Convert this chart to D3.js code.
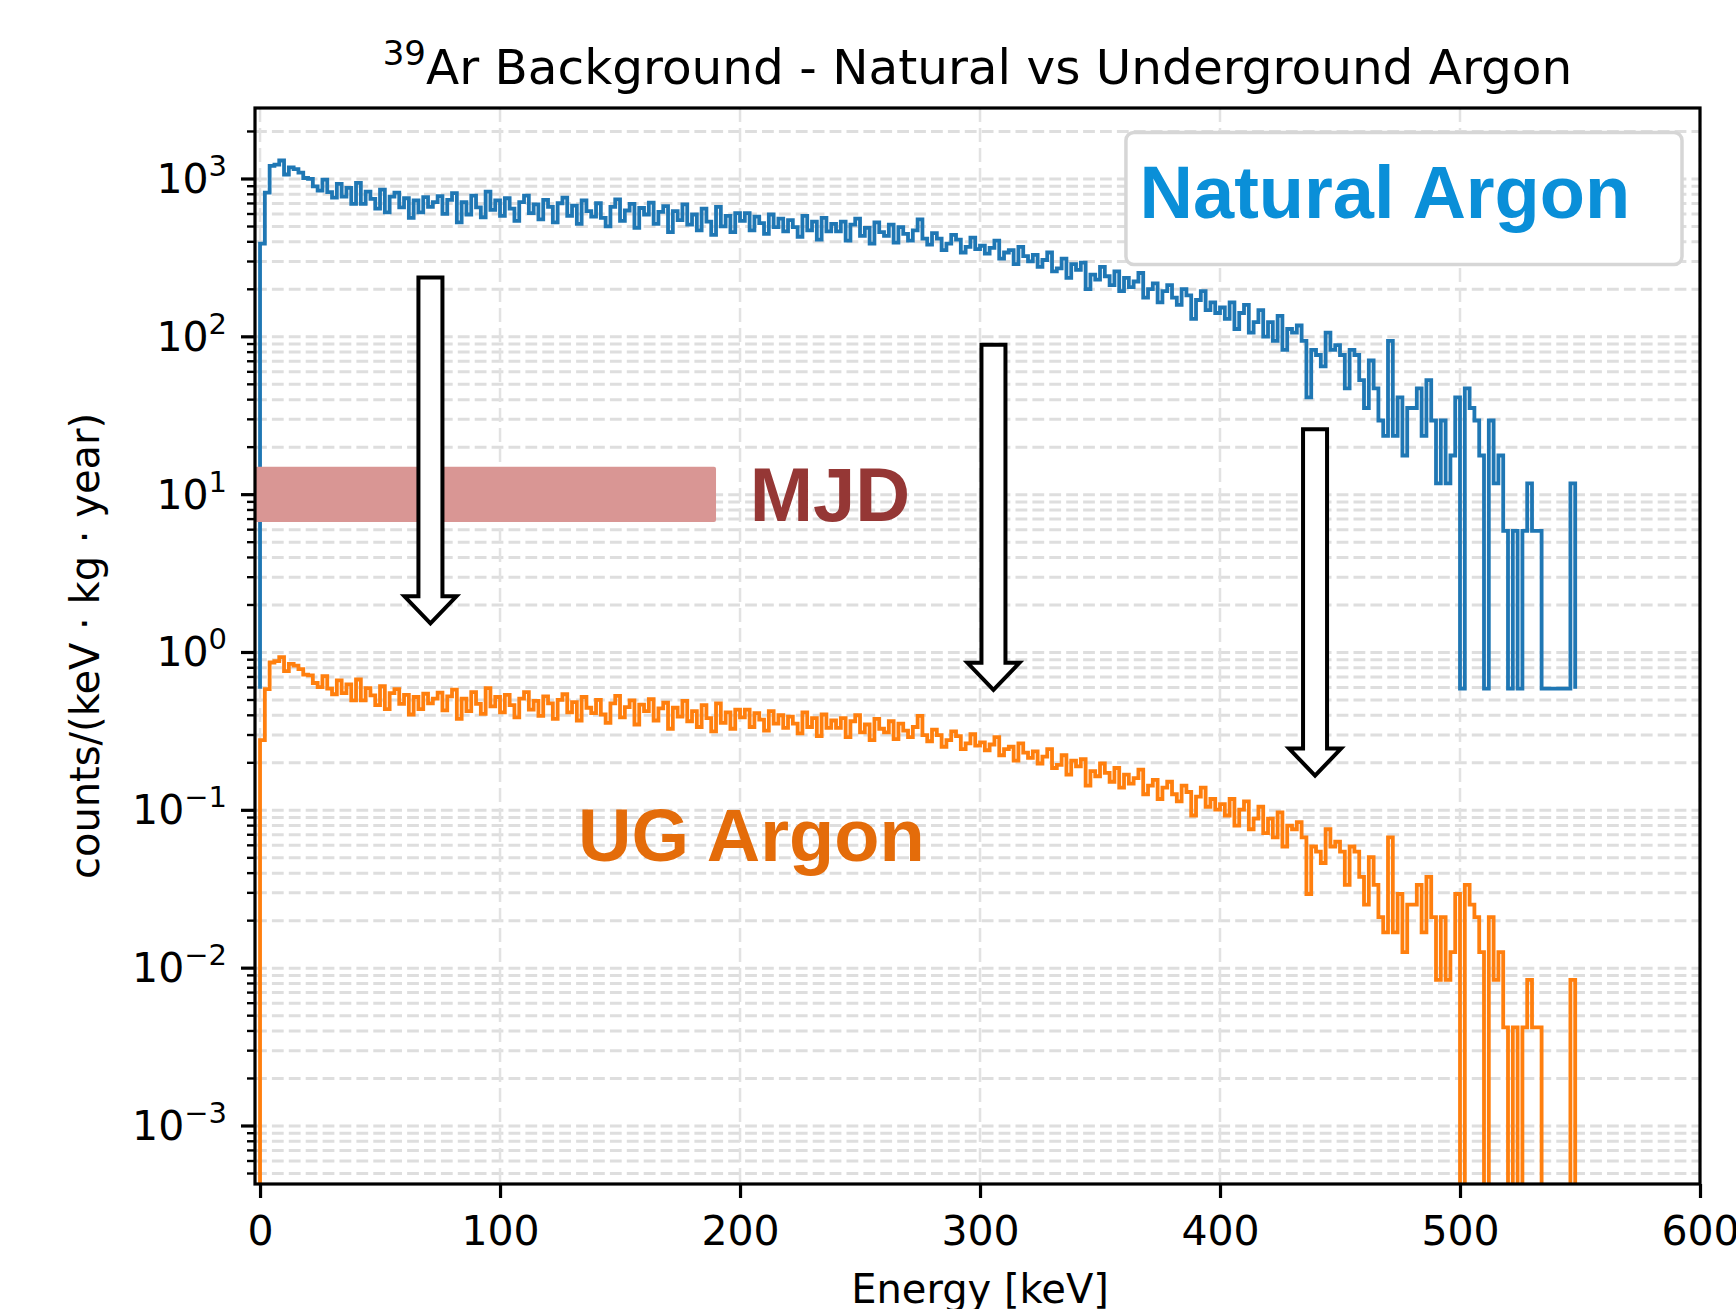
<!DOCTYPE html>
<html>
  <head>
    <meta charset="utf-8">
    <title>39Ar Background</title>
    <script src="https://d3js.org/d3.v7.min.js"></script>
    <style>
      body { margin: 0; background: #fff; }
      text { font-family: "DejaVu Sans", sans-serif; }
    </style>
  </head>
  <body>
    <svg width="1736" height="1309" id="mainsvg"></svg>
    <script>
        // 39Ar spectrum, 2 keV bins starting at 0 keV, counts per bin
        const binWidth = 2;
        const naturalCounts = [
          66, 139, 205, 209, 222, 181, 201, 196, 186, 172,
          170, 152, 143, 168, 140, 129, 158, 131, 149, 118,
          160, 118, 141, 127, 110, 145, 104, 131, 139, 112,
          128, 96, 124, 104, 130, 113, 121, 132, 102, 125,
          138, 90, 121, 101, 133, 112, 97, 141, 108, 124,
          99, 128, 110, 92, 121, 133, 103, 117, 94, 125,
          113, 90, 119, 129, 99, 115, 88, 124, 106, 98,
          119, 96, 85, 113, 126, 92, 107, 118, 83, 111,
          101, 120, 88, 105, 114, 78, 106, 93, 117, 87,
          101, 80, 110, 91, 75, 113, 85, 99, 78, 103,
          92, 103, 80, 98, 89, 76, 101, 84, 95, 79,
          93, 84, 73, 99, 80, 91, 70, 96, 79, 88,
          79, 91, 69, 87, 95, 74, 83, 66, 90, 78,
          74, 87, 67, 84, 76, 69, 80, 94, 71, 65,
          77, 71, 60, 66, 75, 70, 58, 63, 72, 61,
          64, 57, 62, 69, 53, 58, 60, 49, 63, 55,
          51, 56, 47, 52, 58, 44, 46, 53, 40, 49,
          45, 50, 34, 42, 39, 47, 41, 36, 44, 33,
          40, 35, 38, 43, 30, 34, 37, 28, 33, 36,
          30, 27, 34, 31, 22, 29, 33, 25, 28, 24,
          26, 22, 28, 19, 24, 27, 18, 21, 25, 17,
          21, 16, 23, 14, 19, 18,
          20, 16, 7, 14, 13, 11, 18, 14, 15, 13,
          8, 14, 13, 9, 6, 12, 8, 5, 4, 16,
          4, 7, 3, 6, 6, 8, 4, 9, 5, 2,
          5, 2, 3, 7, 0, 8, 6, 5, 3, 0,
          5, 2, 3, 1, 0, 1, 0, 1, 2, 1,
          1, 0, 0, 0, 0, 0, 0, 2
        ];
        const countRate = 5.9;      // counts/(keV kg yr) of one count
        const naturalFloor = 0.59;  // empty natural bins are drawn here
        const ugReduction = 1400;   // underground argon 39Ar depletion

        const xTicks = [0, 100, 200, 300, 400, 500, 600];
        const yDecades = [-3, -2, -1, 0, 1, 2, 3];

        // annotations, in data units
        const mjdBand = {x0: -2.1, x1: 190, y0: 6.7, y1: 15};
        const arrows = [
          {x: 71, top: 238, tip: 1.53},
          {x: 305.6, top: 89, tip: 0.58},
          {x: 439.6, top: 26, tip: 0.166}
        ];
        const naturalBox = {x0: 360.8, x1: 592.5, y0: 287, y1: 1974};

        const svg = d3.select('#mainsvg');
        const width = +svg.attr('width');
        const height = +svg.attr('height');
        const margin = {top: 108, right: 36, bottom: 125, left: 255};
        const innerWidth = width - margin.left - margin.right;
        const innerHeight = height - margin.top - margin.bottom;

        const xScale = d3.scaleLinear().domain([-2.1, 600]).range([0, innerWidth]);
        const yScale = d3.scaleLog().domain([4.29e-4, 2817]).range([innerHeight, 0]);

        const g = svg.append('g').attr('id', 'maingroup')
          .attr('transform', `translate(${margin.left}, ${margin.top})`);

        // grid (major + minor on y, major on x)
        const yMinor = [];
        d3.range(-4, 4).forEach(k => d3.range(1, 10).forEach(m => {
          const v = m * Math.pow(10, k);
          if (v >= yScale.domain()[0] && v <= yScale.domain()[1]) yMinor.push(v);
        }));
        const isDecade = v => Math.abs(Math.log10(v) - Math.round(Math.log10(v))) < 1e-9;

        const gridG = g.append('g');
        gridG.selectAll('.hgrid').data(yMinor).join('line').attr('class', 'hgrid')
          .attr('x1', 0).attr('x2', innerWidth)
          .attr('y1', d => yScale(d)).attr('y2', d => yScale(d))
          .attr('stroke', '#dedede').attr('stroke-width', 3)
          .attr('stroke-dasharray', '11.8,5.1');
        gridG.selectAll('.vgrid').data(xTicks).join('line').attr('class', 'vgrid')
          .attr('x1', d => xScale(d)).attr('x2', d => xScale(d))
          .attr('y1', 0).attr('y2', innerHeight)
          .attr('stroke', '#e2e2e2').attr('stroke-width', 2.5)
          .attr('stroke-dasharray', '14,6');

        // clip to axes
        svg.append('defs').append('clipPath').attr('id', 'plotclip')
          .append('rect').attr('width', innerWidth).attr('height', innerHeight);
        const plot = g.append('g').attr('clip-path', 'url(#plotclip)');

        function stepPoints(vals, base) {
          const pts = [[0, base]];
          vals.forEach((v, i) => {
            pts.push([i * binWidth, v]);
            pts.push([(i + 1) * binWidth, v]);
          });
          pts.push([vals.length * binWidth, base]);
          return pts;
        }
        const stepLine = d3.line()
          .x(d => xScale(d[0]))
          .y(d => d[1] > 0 ? yScale(d[1]) : innerHeight + 10);

        const naturalVals = naturalCounts.map(c => c > 0 ? c * countRate : naturalFloor);
        const ugVals = naturalCounts.map(c => c * countRate / ugReduction);

        plot.append('path').attr('d', stepLine(stepPoints(naturalVals, naturalFloor)))
          .attr('fill', 'none').attr('stroke', '#1f77b4').attr('stroke-width', 3.8)
          .attr('stroke-linejoin', 'miter');
        plot.append('path').attr('d', stepLine(stepPoints(ugVals, 0)))
          .attr('fill', 'none').attr('stroke', '#ff7f0e').attr('stroke-width', 3.8)
          .attr('stroke-linejoin', 'miter');

        // MJD band
        plot.append('rect')
          .attr('x', xScale(mjdBand.x0)).attr('width', xScale(mjdBand.x1) - xScale(mjdBand.x0))
          .attr('y', yScale(mjdBand.y1)).attr('height', yScale(mjdBand.y0) - yScale(mjdBand.y1))
          .attr('rx', 2).attr('fill', '#d99694');

        // hollow arrows
        const sw = 12, hw = 26, hl = 27;
        g.selectAll('.arrow').data(arrows).join('path').attr('class', 'arrow')
          .attr('d', d => {
            const cx = xScale(d.x), ty = yScale(d.top), py = yScale(d.tip);
            return `M${cx - sw},${ty}L${cx + sw},${ty}L${cx + sw},${py - hl}L${cx + hw},${py - hl}` +
              `L${cx},${py}L${cx - hw},${py - hl}L${cx - sw},${py - hl}Z`;
          })
          .attr('fill', '#fff').attr('stroke', '#000').attr('stroke-width', 4)
          .attr('stroke-linejoin', 'miter');

        // labels on the plot
        g.append('text').text('MJD')
          .attr('x', xScale(204)).attr('y', yScale(6.8))
          .style('font-family', '"Liberation Sans", Arial, sans-serif')
          .attr('font-weight', 'bold').attr('font-size', 76).attr('fill', '#953735');

        g.append('text').text('UG Argon')
          .attr('x', xScale(132.5)).attr('y', yScale(0.0474))
          .style('font-family', '"Liberation Sans", Arial, sans-serif')
          .attr('font-weight', 'bold').attr('font-size', 74).attr('fill', '#e46c0a');

        g.append('rect')
          .attr('x', xScale(naturalBox.x0)).attr('width', xScale(naturalBox.x1) - xScale(naturalBox.x0))
          .attr('y', yScale(naturalBox.y1)).attr('height', yScale(naturalBox.y0) - yScale(naturalBox.y1))
          .attr('rx', 8).attr('fill', '#fff').attr('stroke', '#d6d6d6').attr('stroke-width', 3.5);
        g.append('text').text('Natural Argon')
          .attr('x', xScale(366.5)).attr('y', yScale(565))
          .style('font-family', '"Liberation Sans", Arial, sans-serif')
          .attr('font-weight', 'bold').attr('font-size', 74).attr('fill', '#0a8fd8');

        // axes frame
        g.append('rect').attr('width', innerWidth).attr('height', innerHeight)
          .attr('fill', 'none').attr('stroke', '#000').attr('stroke-width', 3.2);

        // x axis
        const xAxis = d3.axisBottom(xScale).tickValues(xTicks).tickSize(14).tickPadding(18);
        const xg = g.append('g').attr('transform', `translate(0, ${innerHeight})`).call(xAxis);
        xg.select('.domain').remove();
        xg.selectAll('.tick line').attr('stroke-width', 3.2);
        xg.selectAll('.tick text').attr('font-size', 41).attr('font-family', '"DejaVu Sans", sans-serif')
          .attr('fill', '#000');

        // y axis: log, major decades + minor ticks
        const yg = g.append('g');
        yg.selectAll('.ymin').data(yMinor).join('line').attr('class', 'ymin')
          .attr('x1', 0).attr('x2', d => isDecade(d) ? -14 : -8)
          .attr('y1', d => yScale(d)).attr('y2', d => yScale(d))
          .attr('stroke', '#000')
          .attr('stroke-width', d => isDecade(d) ? 3.2 : 2.4);
        const ylab = yg.selectAll('.ylab').data(yDecades).join('text').attr('class', 'ylab')
          .attr('x', -28).attr('y', d => yScale(Math.pow(10, d)) + 14)
          .attr('text-anchor', 'end').attr('fill', '#000');
        ylab.append('tspan').text('10').attr('font-size', 41);
        ylab.append('tspan').text(d => String(d).replace('-', '\u2212'))
          .attr('font-size', 29).attr('dy', -17);

        // axis titles
        svg.append('text').text('Energy [keV]')
          .attr('x', margin.left + xScale(300)).attr('y', 1303)
          .attr('text-anchor', 'middle').attr('font-size', 40);
        svg.append('text').text('counts/(keV \u00b7 kg \u00b7 year)')
          .attr('transform', `translate(99, ${margin.top + innerHeight / 2}) rotate(-90)`)
          .attr('text-anchor', 'middle').attr('font-size', 40);

        const title = svg.append('text')
          .attr('x', margin.left + innerWidth / 2).attr('y', 84)
          .attr('text-anchor', 'middle');
        title.append('tspan').text('39').attr('font-size', 34).attr('dy', -19);
        title.append('tspan').text('Ar Background - Natural vs Underground Argon')
          .attr('font-size', 48.5).attr('dy', 19);
    </script>
  </body>
</html>
